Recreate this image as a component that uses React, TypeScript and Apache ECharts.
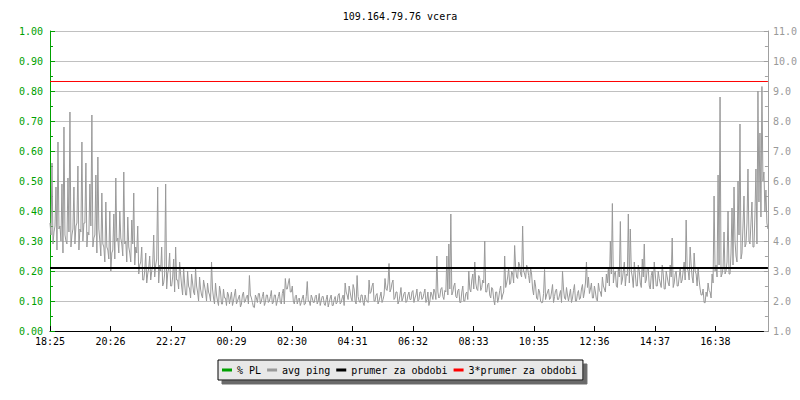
import React, { useEffect, useRef } from "react";
import * as echarts from "echarts";

const titleText = "109.164.79.76 vcera";
const xTickLabels = ["18:25", "20:26", "22:27", "00:29", "02:30", "04:31", "06:32", "08:33", "10:35", "12:36", "14:37", "16:38"];
const xTickStepMin = 121.33;
const spanMin = 1440;
const sampleStepMin = 4;

// % packet loss (none recorded)
const plValues: number[] = [];

// avg ping (ms): first sample of each 4-minute slot from 18:25
const pingPeak: number[] = [
  4.6, 6.6, 4.3, 5.8, 7.3, 4.5, 5.9, 7.8, 4.0, 6.1,
  8.3, 4.2, 5.8, 4.5, 6.5, 4.4, 7.3, 4.6, 6.6, 4.3,
  5.9, 8.2, 4.1, 6.2, 6.8, 4.0, 5.6, 3.8, 5.3, 3.7,
  5.0, 3.6, 4.9, 6.1, 4.1, 5.0, 3.9, 6.3, 4.0, 4.8,
  3.6, 4.7, 5.6, 3.8, 4.5, 3.2, 3.8, 2.7, 3.6, 2.9,
  3.5, 3.0, 4.2, 3.2, 5.8, 3.2, 3.8, 2.6, 5.9, 2.9,
  3.6, 2.5, 3.4, 3.8, 2.7, 3.3, 2.5, 3.1, 2.2, 3.0,
  2.4, 2.9, 2.3, 3.1, 2.3, 2.8, 2.2, 2.7, 2.3, 2.6,
  2.2, 3.3, 2.1, 2.6, 2.0, 2.5, 1.9, 2.4, 2.1, 2.3,
  1.9, 2.3, 2.0, 2.4, 2.0, 2.2, 1.9, 2.3, 2.0, 2.2,
  2.85, 2.1, 1.8, 2.2, 1.95, 2.25, 2.0, 2.3, 1.95, 2.2,
  2.0, 2.35, 1.95, 2.2, 2.0, 2.3, 1.9, 2.4, 2.75, 2.4,
  2.75, 2.3, 2.0, 2.15, 1.9, 2.1, 1.95, 2.2, 1.9, 2.65,
  2.0, 2.2, 1.95, 2.15, 1.9, 2.25, 2.0, 2.15, 1.85, 2.2,
  1.95, 2.2, 1.85, 2.15, 1.95, 2.25, 1.95, 2.2, 2.6, 2.2,
  2.5, 2.1, 2.55, 2.0, 2.85, 2.0, 2.2, 1.95, 2.2, 2.0,
  2.7, 2.3, 2.6, 2.0, 2.25, 2.0, 2.3, 2.05, 2.75, 2.35,
  3.25, 2.4, 2.7, 2.1, 2.3, 2.0, 2.45, 2.1, 2.3, 2.0,
  2.3, 2.05, 2.35, 2.1, 2.4, 2.05, 2.3, 2.1, 2.4, 2.05,
  1.85, 2.3, 2.05, 2.3, 3.5, 2.1, 2.4, 2.15, 2.35, 3.5,
  3.9, 4.9, 2.3, 2.6, 2.1, 2.4, 1.95, 2.5, 2.0, 2.3,
  3.0, 2.3, 2.9, 3.3, 2.4, 2.85, 2.35, 2.7, 4.0, 2.3,
  2.6, 2.1, 2.4, 1.87, 2.3, 2.1, 2.5, 2.2, 3.5, 2.6,
  3.1, 2.6, 2.9, 3.85, 2.8, 3.3, 2.9, 4.5, 2.9, 3.2,
  2.85, 3.1, 2.4, 2.7, 2.1, 2.4, 2.0, 1.95, 3.05, 2.2,
  2.4, 2.1, 2.55, 2.15, 2.4, 2.05, 2.35, 3.0, 2.1, 2.45,
  2.0, 2.4, 2.1, 2.55, 2.0, 2.35, 2.1, 2.55, 2.3, 3.3,
  2.8, 2.4, 2.1, 2.5, 2.05, 2.6, 2.3, 2.8, 2.4, 2.9,
  3.1, 4.0, 5.25, 2.9, 2.5, 3.1, 4.65, 2.7, 3.3, 2.9,
  4.9, 4.4, 2.8, 3.3, 2.5, 3.2, 2.6, 3.4, 3.9, 2.7,
  3.1, 2.4, 3.0, 3.3, 2.5, 3.0, 2.6, 3.2, 2.4, 3.0,
  2.6, 3.2, 4.1, 2.6, 3.0, 2.5, 3.1, 2.7, 3.3, 4.7,
  3.0, 3.8, 2.8, 3.6, 2.9, 3.1, 2.4, 2.2, 1.95, 2.3,
  2.6, 2.3, 2.9, 5.5, 3.2, 6.2, 8.8, 2.9, 4.3, 3.0,
  5.0, 2.9, 5.1, 5.8, 3.5, 6.0, 7.9, 3.6, 5.5, 3.9,
  6.4, 3.9, 5.3, 3.8, 6.4, 9.0, 7.6, 9.15, 6.3, 5.7,
  4.4,
];

// avg ping (ms): second sample of each 4-minute slot (2 minutes later)
const pingLow: number[] = [
  4.2, 3.9, 4.5, 3.7, 4.4, 4.0, 3.6, 4.2, 3.9, 4.3,
  3.8, 4.4, 3.9, 4.6, 3.7, 4.3, 4.0, 4.6, 3.8, 4.2,
  4.5, 3.8, 4.2, 3.6, 4.4, 3.5, 3.9, 3.3, 3.8, 3.4,
  3.0, 3.7, 3.4, 4.0, 3.6, 4.1, 3.5, 3.9, 3.3, 3.8,
  3.3, 3.9, 3.2, 3.6, 2.9, 3.3, 2.7, 3.0, 2.6, 3.1,
  2.7, 3.2, 2.8, 3.4, 2.6, 3.0, 2.5, 2.9, 2.4, 3.1,
  2.5, 2.8, 2.3, 2.7, 2.4, 2.9, 2.2, 2.6, 2.2, 2.5,
  2.1, 2.6, 2.2, 2.5, 2.0, 2.4, 2.1, 2.5, 2.0, 2.3,
  2.0, 2.4, 1.9, 2.2, 1.85, 2.3, 1.9, 2.1, 1.85, 2.2,
  2.1, 1.85, 2.2, 1.9, 2.1, 1.8, 2.2, 1.95, 2.15, 1.9,
  2.2, 1.95, 1.78, 2.1, 2.25, 1.9, 2.15, 1.85, 2.2, 1.95,
  2.15, 1.9, 2.2, 1.85, 2.15, 1.95, 2.25, 1.9, 2.4, 2.6,
  2.3, 2.5, 1.9, 2.2, 2.05, 1.85, 2.1, 1.87, 2.15, 2.0,
  1.85, 2.1, 1.95, 2.2, 2.0, 1.85, 2.15, 1.9, 2.05, 1.8,
  2.1, 1.85, 2.05, 1.9, 2.2, 1.9, 2.1, 1.85, 2.3, 2.05,
  2.3, 2.0, 2.4, 1.9, 2.15, 1.95, 2.2, 1.85, 2.05, 1.95,
  2.25, 2.5, 2.0, 2.2, 1.9, 2.15, 1.95, 2.2, 2.4, 2.6,
  2.3, 2.6, 2.05, 2.3, 1.9, 2.2, 2.0, 2.25, 1.95, 2.2,
  2.05, 2.3, 1.95, 2.2, 2.0, 2.3, 2.05, 2.25, 1.95, 2.3,
  2.0, 2.2, 2.4, 2.05, 2.3, 2.15, 2.45, 2.05, 2.3, 2.2,
  2.4, 2.2, 2.5, 2.15, 2.35, 1.95, 2.3, 2.0, 2.25, 2.05,
  2.4, 2.7, 2.4, 2.6, 2.35, 2.75, 2.45, 2.6, 2.3, 2.55,
  2.2, 2.45, 2.05, 2.3, 1.95, 2.35, 2.05, 2.3, 2.45, 2.8,
  2.55, 3.0, 2.6, 3.1, 2.75, 3.2, 2.8, 3.0, 2.75, 3.1,
  2.6, 2.9, 2.2, 2.5, 2.05, 2.3, 1.94, 2.25, 2.05, 2.3,
  2.05, 2.3, 1.95, 2.35, 2.05, 2.2, 1.95, 2.4, 2.05, 2.2,
  2.2, 1.95, 2.35, 2.0, 2.25, 2.05, 2.4, 2.1, 2.6, 2.45,
  2.25, 2.6, 2.1, 2.3, 2.0, 2.35, 2.15, 2.5, 2.3, 2.6,
  2.5, 2.9, 2.6, 3.0, 2.45, 2.8, 2.55, 3.0, 2.5, 2.85,
  2.6, 3.0, 2.45, 2.9, 2.5, 3.0, 2.45, 2.8, 2.6, 3.1,
  2.5, 2.85, 2.4, 2.9, 2.5, 2.75, 2.45, 2.9, 2.4, 2.8,
  2.5, 2.8, 2.45, 2.9, 2.5, 2.8, 2.6, 3.0, 2.7, 3.1,
  2.7, 3.2, 2.6, 3.0, 2.5, 2.7, 2.2, 2.4, 1.94, 2.15,
  2.35, 2.1, 2.6, 3.0, 2.8, 3.2, 2.8, 3.1, 2.9, 3.3,
  2.9, 3.6, 3.2, 4.0, 3.3, 4.2, 3.4, 4.5, 3.8, 4.6,
  4.0, 4.6, 3.8, 4.9, 3.9, 5.3, 4.8, 6.0, 5.0, 4.6,
];

const prumer = 3.1;
const prumer3 = 9.317;

const FONT = "DejaVu Sans Mono";
const GREEN = "#00a000";
const GREY_AXIS = "#a0a0a0";

export default function App() {
  const ref = useRef<HTMLDivElement>(null);

  useEffect(() => {
    if (!ref.current) return;
    const chart = echarts.init(ref.current, undefined, { renderer: "svg" });
    const pingData: number[][] = [];
    pingPeak.forEach((v, i) => {
      const t = i * sampleStepMin;
      pingData.push([t, v]);
      if (i < pingLow.length) pingData.push([t + sampleStepMin / 2, pingLow[i]]);
    });
    const plData = plValues.map((v, i) => [i * sampleStepMin, v]);

    chart.setOption({
      animation: false,
      backgroundColor: "#ffffff",
      textStyle: { fontFamily: FONT },
      title: {
        text: titleText,
        left: "center",
        top: 6,
        textStyle: { fontFamily: FONT, fontSize: 10, fontWeight: "normal", color: "#000" },
      },
      grid: { left: 50, right: 30, top: 31, bottom: 69, containLabel: false },
      legend: {
        left: 218,
        top: 360,
        orient: "horizontal",
        icon: "rect",
        itemWidth: 10,
        itemHeight: 3,
        itemGap: 6,
        padding: [5, 6, 5, 4],
        backgroundColor: "#e8e8e8",
        borderColor: "#000",
        borderWidth: 1,
        borderRadius: 0,
        shadowColor: "#6a6a6a",
        shadowBlur: 0,
        shadowOffsetX: 4,
        shadowOffsetY: 4,
        textStyle: { fontFamily: FONT, fontSize: 10, color: "#000" },
        data: ["% PL", "avg ping", "prumer za obdobi", "3*prumer za obdobi"],
      },
      xAxis: {
        type: "value",
        min: 0,
        max: spanMin,
        interval: xTickStepMin,
        axisLine: { show: true, lineStyle: { color: "#000", width: 1 } },
        axisTick: { show: true, inside: true, length: 5, lineStyle: { color: "#000" } },
        axisLabel: {
          color: "#000",
          fontFamily: FONT,
          fontSize: 10,
          margin: 5,
          showMaxLabel: false,
          formatter: (v: number) => {
            const idx = Math.round(v / xTickStepMin);
            return xTickLabels[idx] ?? "";
          },
        },
        splitLine: { show: false },
      },
      yAxis: [
        {
          type: "value",
          min: 0,
          max: 1,
          interval: 0.1,
          position: "left",
          axisLine: { show: true, lineStyle: { color: GREEN, width: 1 } },
          axisTick: { show: true, inside: true, length: 5, lineStyle: { color: GREEN } },
          minorTick: { show: true, splitNumber: 2, length: 3, lineStyle: { color: GREEN } },
          axisLabel: {
            color: GREEN,
            fontFamily: FONT,
            fontSize: 10,
            margin: 7,
            formatter: (v: number) => v.toFixed(2),
          },
          splitLine: { show: true, lineStyle: { color: "#c0c0c0", width: 1 } },
        },
        {
          type: "value",
          min: 1,
          max: 11,
          interval: 1,
          position: "right",
          axisLine: { show: true, lineStyle: { color: GREY_AXIS, width: 1 } },
          axisTick: { show: true, inside: true, length: 4, lineStyle: { color: GREY_AXIS } },
          minorTick: { show: true, splitNumber: 2, length: 3, lineStyle: { color: GREY_AXIS } },
          axisLabel: {
            color: "#999999",
            fontFamily: FONT,
            fontSize: 10,
            margin: 5,
            formatter: (v: number) => v.toFixed(1),
          },
          splitLine: { show: false },
        },
      ],
      series: [
        {
          name: "% PL",
          type: "line",
          yAxisIndex: 0,
          data: plData,
          showSymbol: false,
          itemStyle: { color: GREEN },
          lineStyle: { color: GREEN, width: 1 },
        },
        {
          name: "avg ping",
          type: "line",
          yAxisIndex: 1,
          data: pingData,
          showSymbol: false,
          symbol: "none",
          itemStyle: { color: "#999999" },
          lineStyle: { color: "#999999", width: 1 },
        },
        {
          name: "prumer za obdobi",
          type: "line",
          yAxisIndex: 1,
          data: [[0, prumer], [spanMin, prumer]],
          showSymbol: false,
          symbol: "none",
          itemStyle: { color: "#000" },
          lineStyle: { color: "#000", width: 2 },
        },
        {
          name: "3*prumer za obdobi",
          type: "line",
          yAxisIndex: 1,
          data: [[0, prumer3], [spanMin, prumer3]],
          showSymbol: false,
          symbol: "none",
          itemStyle: { color: "#ff0000" },
          lineStyle: { color: "#ff0000", width: 1 },
        },
      ],
    });
    return () => chart.dispose();
  }, []);

  return <div ref={ref} style={{ width: 800, height: 400, position: "absolute", left: 0, top: 0 }} />;
}
